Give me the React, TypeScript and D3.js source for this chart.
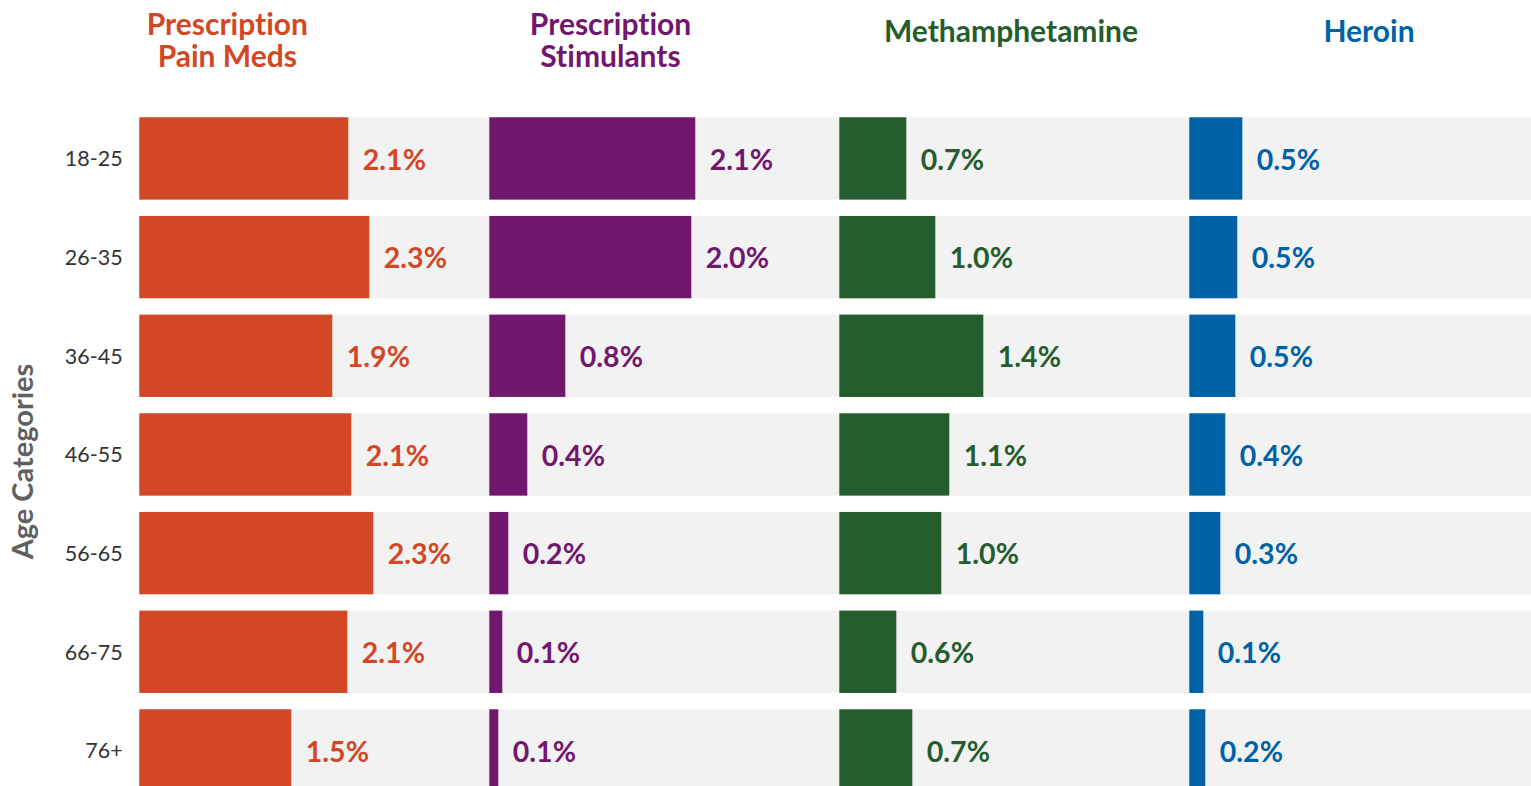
import React, { useEffect, useRef } from 'react';
import * as d3 from 'd3';

const ageGroups = ['18-25', '26-35', '36-45', '46-55', '56-65', '66-75', '76+'];

// percent of each age group
const painMeds = [2.09, 2.30, 1.93, 2.12, 2.34, 2.08, 1.52];
const stimulants = [2.06, 2.02, 0.76, 0.38, 0.19, 0.13, 0.09];
const methamphetamine = [0.67, 0.96, 1.44, 1.10, 1.02, 0.57, 0.73];
const heroin = [0.53, 0.48, 0.46, 0.36, 0.31, 0.14, 0.16];

const seriesTitles = [
    ['Prescription', 'Pain Meds'],
    ['Prescription', 'Stimulants'],
    ['Methamphetamine'],
    ['Heroin'],
];

const seriesColors = ['#D24726', '#72176E', '#255D2E', '#0062A6'];

const WIDTH = 1531;
const HEIGHT = 786;
const FONT = "Lato, 'Open Sans', sans-serif";

const App = () => {
    const svgRef = useRef<SVGSVGElement>(null);

    useEffect(() => {
        const series = [painMeds, stimulants, methamphetamine, heroin];
        const left = 139.3;
        const panelWidth = 350;
        // title centres don't follow the panels exactly
        const titleX = [227.3, 610.5, 1011, 1369];

        const svg = d3.select(svgRef.current);
        svg.selectAll('*').remove();
        svg.style('font-variant-ligatures', 'none');

        const xScale = d3.scaleLinear().domain([0, 3.5]).range([0, panelWidth]);

        const yScale = d3.scaleBand<string>()
            .domain(ageGroups)
            .range([109.1, 799.8])
            .paddingInner(0.1655)
            .paddingOuter(0.0828);

        const bw = yScale.bandwidth();

        // grey row backgrounds run across all panels
        svg.append('g')
            .selectAll('rect')
            .data(ageGroups)
            .join('rect')
            .attr('x', left)
            .attr('y', (d) => yScale(d))
            .attr('width', panelWidth * series.length)
            .attr('height', bw)
            .attr('fill', '#F2F2F2');

        series.forEach((values, i) => {
            const color = seriesColors[i];
            const panel = svg.append('g')
                .attr('transform', `translate(${left + i * panelWidth},0)`);

            panel.selectAll('rect')
                .data(values)
                .join('rect')
                .attr('x', 0)
                .attr('y', (_, j) => yScale(ageGroups[j]))
                .attr('width', (d) => xScale(d))
                .attr('height', bw)
                .attr('fill', color);

            panel.selectAll('text')
                .data(values)
                .join('text')
                .attr('x', (d) => xScale(d) + 14.5)
                .attr('y', (_, j) => yScale(ageGroups[j]) + bw / 2 + 11.3)
                .style('font-family', FONT)
                .style('font-weight', 700)
                .style('font-size', '28.5px')
                .style('fill', color)
                .text((d) => d3.format('.1f')(d) + '%');

            // panel title, one text with a tspan per line
            const lines = seriesTitles[i];
            const title = svg.append('text')
                .attr('x', titleX[i])
                .attr('y', lines.length === 2 ? 35 : 42.3)
                .attr('text-anchor', 'middle')
                .style('font-family', FONT)
                .style('font-weight', 700)
                .style('font-size', '30px')
                .style('fill', color);

            title.selectAll('tspan')
                .data(lines)
                .join('tspan')
                .attr('x', titleX[i])
                .attr('dy', (_, k) => (k === 0 ? 0 : 31.7))
                .text((d) => d);
        });

        // age labels
        svg.append('g')
            .selectAll('text')
            .data(ageGroups)
            .join('text')
            .attr('x', 122.7)
            .attr('y', (d) => yScale(d) + bw / 2 + 8)
            .attr('text-anchor', 'end')
            .style('font-family', FONT)
            .style('font-size', '21.5px')
            .style('fill', '#333333')
            .text((d) => d);

        svg.append('text')
            .attr('transform', 'translate(33.3,461.5) rotate(-90)')
            .attr('text-anchor', 'middle')
            .style('font-family', FONT)
            .style('font-weight', 700)
            .style('font-size', '29px')
            .style('fill', '#606060')
            .text('Age Categories');
    }, []);

    return (
        <svg
            ref={svgRef}
            width={WIDTH}
            height={HEIGHT}
            style={{ position: 'absolute', left: 0, top: 0, background: '#fff' }}
        />
    );
};

export default App;
